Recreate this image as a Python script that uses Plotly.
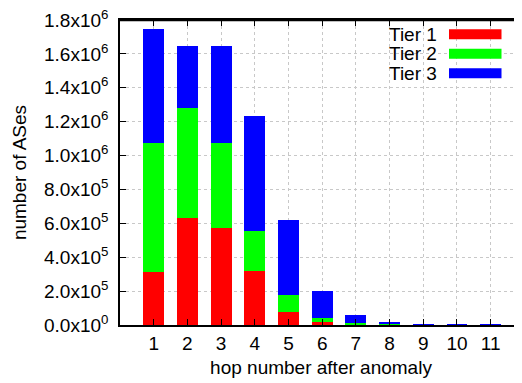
import plotly.graph_objects as go

hops = [1, 2, 3, 4, 5, 6, 7, 8, 9, 10, 11]
series_names = ["Tier 1", "Tier 2", "Tier 3"]
tier1 = [315000, 633000, 572000, 317000, 77000, 18000, 4000, 2000, 1000, 500, 500]
tier2 = [757000, 648000, 503000, 238000, 98000, 25000, 6000, 1000, 1000, 500, 500]
tier3 = [673000, 364000, 570000, 680000, 445000, 159000, 49000, 15000, 2000, 1000, 1000]
colors = ["#ff0000", "#00ff00", "#0000ff"]

y_tickvals = [0, 2e5, 4e5, 6e5, 8e5, 1e6, 1.2e6, 1.4e6, 1.6e6, 1.8e6]
y_ticktext = ["0.0x10<sup>0</sup>", "2.0x10<sup>5</sup>", "4.0x10<sup>5</sup>",
              "6.0x10<sup>5</sup>", "8.0x10<sup>5</sup>", "1.0x10<sup>6</sup>",
              "1.2x10<sup>6</sup>", "1.4x10<sup>6</sup>", "1.6x10<sup>6</sup>",
              "1.8x10<sup>6</sup>"]

FONT = "Liberation Sans, Arial, sans-serif"

# page body has an 8px default margin; figure is sized so the page is 522x383
W, H = 514, 375
L, T, B, R = 112, 12, 58, 0
PW, PH = W - L - R, H - T - B


def px_x(x):  # window pixel -> paper x
    return (x - 8 - L) / PW


def px_y(y):  # window pixel -> paper y
    return 1 - (y - 8 - T) / PH


fig = go.Figure()
for name, vals, col in zip(series_names, [tier1, tier2, tier3], colors):
    fig.add_trace(go.Bar(x=hops, y=vals, name=name, marker=dict(color=col, line=dict(width=0)),
                         width=0.62, showlegend=False))

# custom gnuplot-style legend (text left of swatch)
for i, (name, col) in enumerate(zip(series_names, colors)):
    yc = 34.3 + i * 19.5
    fig.add_annotation(xref="paper", yref="paper", x=px_x(439), y=px_y(yc),
                       text=name, showarrow=False, xanchor="right", yanchor="middle",
                       font=dict(family=FONT, size=19, color="#000000"))
    fig.add_shape(type="rect", xref="paper", yref="paper",
                  x0=px_x(449), x1=px_x(501.5),
                  y0=px_y(yc + 5), y1=px_y(yc - 5),
                  fillcolor=col, line=dict(width=0))

# top frame line
fig.add_shape(type="line", xref="paper", yref="paper", x0=0, x1=1, y0=0.998, y1=0.998,
              line=dict(color="#000000", width=1.5), layer="above")

fig.update_layout(
    barmode="stack",
    width=W, height=H,
    margin=dict(l=L, r=R, t=T, b=B),
    paper_bgcolor="white", plot_bgcolor="white",
    font=dict(family=FONT, size=19, color="#000000"),
    bargap=0,
)
fig.update_xaxes(
    range=[0, 11.93], tickvals=hops, ticktext=[str(h) for h in hops],
    showline=True, linecolor="#000000", linewidth=1.5, mirror="ticks",
    ticks="inside", ticklen=6, tickcolor="#000000",
    showgrid=True, gridcolor="#c8c8c8", griddash="dot", gridwidth=1,
    zeroline=False, automargin=False,
    title=dict(text="hop number after anomaly", font=dict(size=19), standoff=8),
    tickfont=dict(size=19),
)
fig.update_yaxes(
    range=[0, 1.8e6], tickvals=y_tickvals, ticktext=y_ticktext,
    showline=True, linecolor="#000000", linewidth=1.5, mirror="ticks",
    ticks="inside", ticklen=6, tickcolor="#000000",
    showgrid=True, gridcolor="#c8c8c8", griddash="dot", gridwidth=1,
    zeroline=False, automargin=False, ticklabelstandoff=6,
    ticklabeloverflow="allow",
    title=dict(text="number of ASes", font=dict(size=19), standoff=12),
    tickfont=dict(size=19),
)

fig.write_html("out.html", config={"displayModeBar": False})
